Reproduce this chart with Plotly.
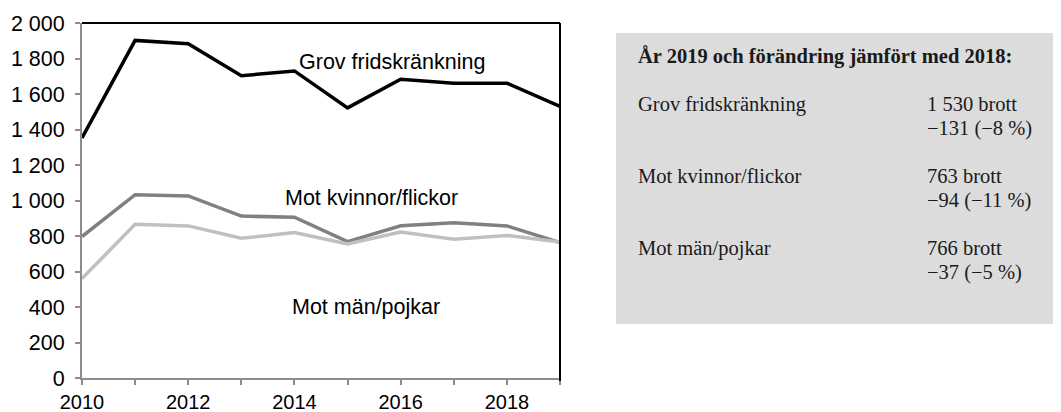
import plotly.graph_objects as go

years = [2010, 2011, 2012, 2013, 2014, 2015, 2016, 2017, 2018, 2019]
grov = [1352, 1902, 1883, 1703, 1730, 1522, 1683, 1661, 1661, 1530]
kvinnor = [797, 1033, 1026, 912, 906, 768, 858, 875, 857, 763]
man = [560, 866, 857, 787, 820, 755, 823, 782, 803, 766]

series_names = ["Grov fridskränkning", "Mot kvinnor/flickor", "Mot män/pojkar"]
series_colors = ["#000000", "#808080", "#c0c0c0"]

y_tickvals = [0, 200, 400, 600, 800, 1000, 1200, 1400, 1600, 1800, 2000]
y_ticktext = ["0", "200", "400", "600", "800", "1 000", "1 200", "1 400", "1 600", "1 800", "2 000"]
x_tickvals = [2010, 2012, 2014, 2016, 2018]
x_ticktext = ["2010", "2012", "2014", "2016", "2018"]

box_title = "År 2019 och förändring jämfört med 2018:"
box_rows = [
    ("Grov fridskränkning", "1 530 brott", "\u2212131 (\u22128 %)"),
    ("Mot kvinnor/flickor", "763 brott", "\u221294 (\u221211 %)"),
    ("Mot män/pojkar", "766 brott", "\u221237 (\u22125 %)"),
]

# page has an 8px body margin; page-pixel layout below
OFF = 8
L, R, T, B = 82, 560, 23, 378
W, H = 1061 - OFF, 412 - OFF
PW, PH = R - L, B - T

def px(x):
    return (x - L) / PW

def py(y):
    return (B - y) / PH

fig = go.Figure()
for vals, name, col in zip([grov, kvinnor, man], series_names, series_colors):
    fig.add_trace(go.Scatter(x=years, y=vals, mode="lines", name=name,
                             line=dict(color=col, width=3.5), showlegend=False))

axis_font = dict(family="Liberation Sans, Arial, sans-serif", size=21.5, color="#000")
xaxis_font = dict(family="Liberation Sans, Arial, sans-serif", size=20, color="#000")
fig.update_layout(
    width=W, height=H, autosize=False,
    margin=dict(l=L - OFF, r=W - (R - OFF), t=T - OFF, b=H - (B - OFF), pad=0, autoexpand=False),
    paper_bgcolor="white", plot_bgcolor="white",
    xaxis=dict(range=[2010, 2019], tickvals=x_tickvals, ticktext=x_ticktext, automargin=False,
               showgrid=False, zeroline=False, showline=True, linecolor="#8c8c8c", linewidth=2,
               ticks="outside", ticklen=5, tickcolor="#8c8c8c", tickwidth=1.5,
               minor=dict(ticks="outside", dtick=1, tick0=2010, ticklen=5, tickcolor="#8c8c8c", tickwidth=1.5),
               tickfont=xaxis_font),
    yaxis=dict(range=[0, 2000], tickvals=y_tickvals, ticktext=y_ticktext, automargin=False,
               showgrid=False, zeroline=False, showline=True, linecolor="#8c8c8c", linewidth=2,
               ticks="outside", ticklen=5, tickcolor="#8c8c8c", tickwidth=1.5,
               ticklabelstandoff=6, tickfont=axis_font),
)

# black top and right borders
fig.add_shape(type="line", xref="paper", yref="paper", x0=0, x1=1, y0=1, y1=1,
              line=dict(color="#000", width=2))
fig.add_shape(type="line", xref="paper", yref="paper", x0=1, x1=1, y0=py(381), y1=1,
              line=dict(color="#000", width=2))

# series labels
label_pos = [(2015.84, 1780), (2015.46, 1014), (2015.35, 400)]
for name, (lx, ly) in zip(series_names, label_pos):
    fig.add_annotation(x=lx, y=ly, text=name, showarrow=False, xanchor="center", yanchor="middle",
                       font=dict(family="Liberation Sans, Arial, sans-serif", size=21.5, color="#000"))

# info box
fig.add_shape(type="rect", xref="paper", yref="paper", x0=px(616), x1=px(1061), y0=py(324), y1=py(33),
              fillcolor="#dcdcdc", line=dict(width=0), layer="below")
serif = dict(family="Liberation Serif, Times New Roman, serif", size=20.5, color="#1a1a1a")
fig.add_annotation(xref="paper", yref="paper", x=px(636), y=py(57), text="<b>" + box_title + "</b>",
                   showarrow=False, xanchor="left", yanchor="middle", font=serif)
row_y = [104, 176, 248]
for (lbl, v1, v2), ry in zip(box_rows, row_y):
    fig.add_annotation(xref="paper", yref="paper", x=px(636), y=py(ry), text=lbl,
                       showarrow=False, xanchor="left", yanchor="middle", font=serif)
    fig.add_annotation(xref="paper", yref="paper", x=px(925), y=py(ry), text=v1,
                       showarrow=False, xanchor="left", yanchor="middle", font=serif)
    fig.add_annotation(xref="paper", yref="paper", x=px(925), y=py(ry + 24), text=v2,
                       showarrow=False, xanchor="left", yanchor="middle", font=serif)

fig.write_html("out.html")
